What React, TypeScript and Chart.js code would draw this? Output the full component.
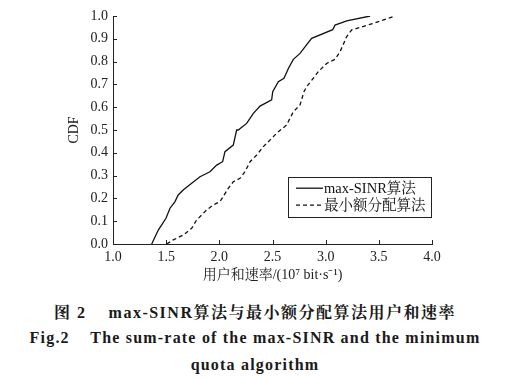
import React, { useEffect, useRef } from "react";
import { Chart, registerables } from "chart.js";

Chart.register(...registerables);

const seriesLabels = ["max-SINR算法", "最小额分配算法"];

const maxSinrRate = [1.364, 1.426, 1.498, 1.536, 1.583, 1.613, 1.66, 1.74, 1.818, 1.912, 1.975, 2.031, 2.053, 2.131, 2.163, 2.178, 2.257, 2.32, 2.383, 2.492, 2.502, 2.555, 2.608, 2.649, 2.696, 2.759, 2.82, 2.868, 3.066, 3.088, 3.198, 3.418];
const maxSinrCdf = [0.0, 0.061, 0.113, 0.157, 0.186, 0.215, 0.237, 0.266, 0.295, 0.317, 0.346, 0.361, 0.405, 0.434, 0.5, 0.5, 0.529, 0.573, 0.605, 0.632, 0.668, 0.712, 0.727, 0.77, 0.81, 0.836, 0.873, 0.902, 0.94, 0.96, 0.979, 1.0];

const minQuotaRate = [1.505, 1.567, 1.66, 1.74, 1.786, 1.88, 1.943, 2.006, 2.084, 2.131, 2.194, 2.241, 2.289, 2.351, 2.414, 2.508, 2.539, 2.633, 2.696, 2.759, 2.796, 2.821, 2.884, 2.931, 3.009, 3.088, 3.135, 3.198, 3.245, 3.465, 3.653];
const minQuotaCdf = [0.0, 0.018, 0.039, 0.069, 0.105, 0.149, 0.171, 0.186, 0.244, 0.273, 0.288, 0.317, 0.361, 0.39, 0.427, 0.471, 0.486, 0.522, 0.58, 0.61, 0.668, 0.69, 0.727, 0.756, 0.792, 0.81, 0.843, 0.91, 0.939, 0.97, 1.0];

const xTitle = "用户和速率/(10⁷ bit·s⁻¹)";
const yTitle = "CDF";
const captionCn = "图 2    max-SINR算法与最小额分配算法用户和速率";
const captionEn1 = "Fig.2    The sum-rate of the max-SINR and the minimum";
const captionEn2 = "quota algorithm";

const serif = "'Liberation Serif', 'Noto Serif CJK SC', 'Noto Sans CJK SC', serif";

const inwardTicks = {
  id: "inwardTicks",
  afterDraw(chart: any) {
    const ctx = chart.ctx;
    const xs = chart.scales.x;
    const ys = chart.scales.y;
    const { left, bottom } = chart.chartArea;
    ctx.save();
    ctx.strokeStyle = "#222";
    ctx.lineWidth = 1;
    ctx.beginPath();
    xs.ticks.forEach((t: any) => {
      const px = Math.round(xs.getPixelForValue(t.value)) + 0.5;
      ctx.moveTo(px, bottom);
      ctx.lineTo(px, bottom - 4);
    });
    ys.ticks.forEach((t: any) => {
      const py = Math.round(ys.getPixelForValue(t.value)) + 0.5;
      ctx.moveTo(left, py);
      ctx.lineTo(left + 4, py);
    });
    ctx.stroke();
    ctx.restore();
  },
};

const boxLegend = {
  id: "boxLegend",
  afterDraw(chart: any) {
    const ctx = chart.ctx;
    const xs = chart.scales.x;
    const ys = chart.scales.y;
    const right = xs.getPixelForValue(4.0);
    const bx = right - 144;
    const by = ys.getPixelForValue(0.293);
    const bw = 144;
    const bh = 40;
    ctx.save();
    ctx.strokeStyle = "#222";
    ctx.lineWidth = 1;
    ctx.strokeRect(Math.round(bx) + 0.5, Math.round(by) + 0.5, bw - 1, bh);
    ctx.font = "14.5px " + serif;
    ctx.fillStyle = "#111";
    ctx.textBaseline = "middle";
    chart.data.datasets.forEach((ds: any, i: number) => {
      const y = by + 11 + i * 17;
      ctx.beginPath();
      ctx.setLineDash(ds.borderDash || []);
      ctx.lineWidth = ds.borderWidth;
      ctx.strokeStyle = ds.borderColor;
      ctx.moveTo(bx + 8, y);
      ctx.lineTo(bx + 35, y);
      ctx.stroke();
      ctx.setLineDash([]);
      ctx.fillText(ds.label, bx + 36, y + 1);
    });
    ctx.restore();
  },
};

export default function App() {
  const ref = useRef<HTMLCanvasElement>(null);
  useEffect(() => {
    if (!ref.current) return;
    const chart = new Chart(ref.current, {
      type: "line",
      data: {
        datasets: [
          {
            label: seriesLabels[0],
            data: maxSinrRate.map((x, i) => ({ x, y: maxSinrCdf[i] })),
            borderColor: "#111",
            borderWidth: 1.3,
            pointRadius: 0,
            tension: 0,
          },
          {
            label: seriesLabels[1],
            data: minQuotaRate.map((x, i) => ({ x, y: minQuotaCdf[i] })),
            borderColor: "#111",
            borderWidth: 1.3,
            borderDash: [4, 3],
            pointRadius: 0,
            tension: 0,
          },
        ],
      },
      plugins: [inwardTicks, boxLegend],
      options: {
        animation: false,
        responsive: false,
        layout: { padding: { left: 0, right: 78, top: 16, bottom: 0 } },
        plugins: { legend: { display: false }, tooltip: { enabled: false } },
        scales: {
          x: {
            type: "linear",
            min: 1.0,
            max: 4.0,
            grid: { display: false, drawTicks: false },
            border: { display: true, color: "#222", width: 1 },
            ticks: {
              stepSize: 0.5,
              padding: 5,
              color: "#222",
              font: { family: serif, size: 14 },
              callback: (v: any) => Number(v).toFixed(1),
            },
            title: {
              display: true,
              text: xTitle,
              color: "#222",
              font: { family: serif, size: 14 },
              padding: { top: 0, bottom: 1 },
            },
            afterFit: (s: any) => {
              s.height = 41;
            },
          },
          y: {
            type: "linear",
            min: 0,
            max: 1.0,
            grid: { display: false, drawTicks: false },
            border: { display: true, color: "#222", width: 1 },
            ticks: {
              stepSize: 0.1,
              padding: 5,
              color: "#222",
              font: { family: serif, size: 14 },
              callback: (v: any) => Number(v).toFixed(1),
            },
            title: {
              display: true,
              text: yTitle,
              color: "#222",
              font: { family: serif, size: 14 },
              padding: { top: 66, bottom: 0 },
            },
            afterFit: (s: any) => {
              s.width = 113;
            },
          },
        },
      },
    });
    return () => chart.destroy();
  }, []);

  const capStyle: React.CSSProperties = {
    position: "absolute",
    left: 0,
    width: 510,
    textAlign: "center",
    fontFamily: serif,
    fontWeight: "bold",
    fontSize: 16,
    whiteSpace: "pre",
    color: "#1a1a1a",
  };

  return (
    <div style={{ position: "fixed", left: 0, top: 0, width: 510, height: 380, background: "#fff" }}>
      <canvas ref={ref} width={510} height={285} style={{ position: "absolute", left: 0, top: 0 }} />
      <div style={{ ...capStyle, top: 300, letterSpacing: 1.5 }}>{captionCn}</div>
      <div style={{ ...capStyle, top: 329, letterSpacing: 1.2 }}>{captionEn1}</div>
      <div style={{ ...capStyle, top: 356, letterSpacing: 1.2 }}>{captionEn2}</div>
    </div>
  );
}
